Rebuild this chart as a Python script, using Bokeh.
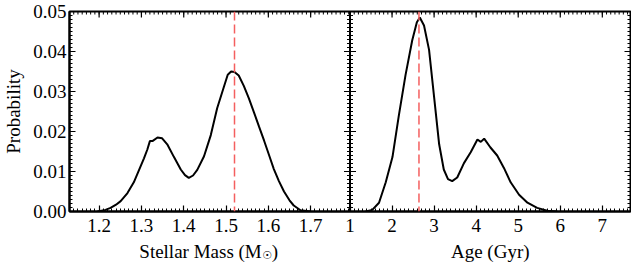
import numpy as np
from bokeh.plotting import figure
from bokeh.layouts import column
from bokeh.models import (Range1d, LinearAxis, FixedTicker, Span, PrintfTickFormatter, Label)
from bokeh.embed import file_html
from bokeh.resources import INLINE

# ---- data ----
mass_x = [1.196, 1.215, 1.227, 1.240, 1.251, 1.267, 1.282, 1.298, 1.306, 1.314, 1.320, 1.326,
          1.338, 1.349, 1.361, 1.377, 1.393, 1.403, 1.412, 1.422, 1.432, 1.448, 1.464, 1.479,
          1.495, 1.504, 1.512, 1.520, 1.530, 1.542, 1.554, 1.566, 1.578, 1.590, 1.602, 1.613,
          1.625, 1.637, 1.650, 1.660, 1.676, 1.700]
mass_p = [0.0000, 0.0004, 0.0009, 0.0017, 0.0026, 0.0046, 0.0073, 0.0113, 0.0133, 0.0155, 0.0176,
          0.0176, 0.0185, 0.0183, 0.0168, 0.0136, 0.0105, 0.0091, 0.0084, 0.0090, 0.0104, 0.0138,
          0.0191, 0.0258, 0.0312, 0.0342, 0.0350, 0.0349, 0.0340, 0.0314, 0.0283, 0.0248, 0.0212,
          0.0177, 0.0140, 0.0106, 0.0076, 0.0050, 0.0028, 0.0015, 0.0003, 0.0000]
age_x = [1.37, 1.53, 1.69, 1.85, 2.01, 2.16, 2.32, 2.48, 2.59, 2.66, 2.76, 2.88, 3.00, 3.12,
         3.23, 3.33, 3.43, 3.55, 3.71, 3.87, 4.03, 4.11, 4.19, 4.34, 4.50, 4.66, 4.82, 5.02,
         5.22, 5.45, 5.69, 5.93]
age_p = [0.0000, 0.0004, 0.0022, 0.0073, 0.0136, 0.0239, 0.0341, 0.0428, 0.0473, 0.0485, 0.0465,
         0.0404, 0.0286, 0.0168, 0.0105, 0.0081, 0.0076, 0.0085, 0.0121, 0.0148, 0.0180, 0.0174,
         0.0182, 0.0160, 0.0140, 0.0109, 0.0073, 0.0042, 0.0022, 0.0009, 0.0002, 0.0000]
mass_best = 1.52
age_best = 2.64

mass_ticks = [1.2, 1.3, 1.4, 1.5, 1.6, 1.7]
mass_labels = ["1.2", "1.3", "1.4", "1.5", "1.6", "1.7"]
age_ticks = [1, 2, 3, 4, 5, 6, 7]
age_labels = ["1", "2", "3", "4", "5", "6", "7"]
y_ticks = [0.0, 0.01, 0.02, 0.03, 0.04, 0.05]

x_title_mass = "Stellar Mass (M"
x_title_sun = "\u2609"
x_title_close = ")"
x_title_age = "Age (Gyr)"
y_title = "Probability"

mass_range = (1.13, 1.793)
age_range = (1.0, 7.67)
y_range = (0.0, 0.05)

FONT = "'Liberation Serif'"
FS = "19px"
RED = "#f45f5f"

mspan = mass_range[1] - mass_range[0]
aspan = age_range[1] - age_range[0]


def age_to_main(a):
    return mass_range[1] + (a - age_range[0]) * mspan / aspan


xr = Range1d(mass_range[0], mass_range[0] + 2 * mspan)
ar = Range1d(age_range[0] - aspan, age_range[1])

p = figure(width=631, height=240, output_backend="svg", toolbar_location=None,
           x_range=xr, y_range=Range1d(*y_range),
           min_border_left=68, min_border_right=1, min_border_top=11, min_border_bottom=29,
           x_axis_type=None, y_axis_type=None)
p.extra_x_ranges = {"age": ar}
p.grid.visible = False
p.outline_line_color = "black"
p.outline_line_width = 2
p.background_fill_color = "white"
p.border_fill_color = "white"

# ---- tickers ----
major_x = [float(t) for t in mass_ticks] + [float(age_to_main(a)) for a in age_ticks]
minor_m_vals = [float(v) for v in np.round(np.arange(1.14, 1.795, 0.01), 3)]
minor_a_vals = [float(v) for v in np.round(np.arange(1.1, 7.67, 0.1), 2)]
minor_x = minor_m_vals + [float(age_to_main(v)) for v in minor_a_vals]
xticker = FixedTicker(ticks=major_x, minor_ticks=minor_x)
overrides = {}
for t, l in zip(mass_ticks, mass_labels):
    overrides[float(t)] = l
for a, l in zip(age_ticks, age_labels):
    overrides[float(age_to_main(a))] = l

yminor = [float(v) for v in np.round(np.arange(0.001, 0.0500, 0.001), 4)]
yticker = FixedTicker(ticks=y_ticks, minor_ticks=yminor)


def style(ax):
    ax.major_tick_in = 6
    ax.major_tick_out = 0
    ax.minor_tick_in = 3
    ax.minor_tick_out = 0
    ax.major_tick_line_width = 1.2
    ax.minor_tick_line_width = 1
    ax.axis_line_color = "black"
    ax.axis_line_width = 2
    ax.major_label_text_font = FONT
    ax.axis_label_text_font = FONT
    ax.axis_label_text_font_style = "normal"
    ax.major_label_text_color = "black"
    ax.axis_label_text_color = "black"
    ax.major_label_text_font_size = FS
    ax.axis_label_text_font_size = FS


xb = LinearAxis(ticker=xticker, major_label_overrides=overrides)
style(xb)
xb.major_label_standoff = 7
xb.axis_label_standoff = 0
p.add_layout(xb, "below")
yl = LinearAxis(ticker=yticker, formatter=PrintfTickFormatter(format="%.2f"), axis_label=y_title)
style(yl)
yl.major_label_standoff = 3
yl.axis_label_standoff = 6
p.add_layout(yl, "left")

# ---- top / right / middle ticks drawn as short rays from the frame edges ----
p.ray(x=major_x, y=[y_range[1]] * len(major_x), length=6, length_units="screen",
      angle=-np.pi / 2, line_color="black", line_width=1.2)
p.ray(x=minor_x, y=[y_range[1]] * len(minor_x), length=3, length_units="screen",
      angle=-np.pi / 2, line_color="black", line_width=1)
p.ray(x=[age_range[1]] * len(y_ticks), y=y_ticks, x_range_name="age", length=6,
      length_units="screen", angle=np.pi, line_color="black", line_width=1.2)
p.ray(x=[age_range[1]] * len(yminor), y=yminor, x_range_name="age", length=3,
      length_units="screen", angle=np.pi, line_color="black", line_width=1)

p.add_layout(Span(location=age_range[0], dimension="height", x_range_name="age",
                  line_color="black", line_width=2))
p.scatter(x=[age_range[0]] * len(y_ticks), y=y_ticks, x_range_name="age",
          marker="dash", size=12, line_color="black", line_width=1.2)
p.scatter(x=[age_range[0]] * len(yminor), y=yminor, x_range_name="age",
          marker="dash", size=6, line_color="black", line_width=1)

# ---- curves ----
p.line(mass_x, mass_p, line_color="black", line_width=2)
p.line(age_x, age_p, line_color="black", line_width=2, x_range_name="age")

p.add_layout(Span(location=mass_best, dimension="height", line_color=RED,
                  line_width=1.5, line_dash="9 4"))
p.add_layout(Span(location=age_best, dimension="height", x_range_name="age",
                  line_color=RED, line_width=1.5, line_dash="9 4"))

# ---- strip below holding the x axis titles ----
t = figure(width=631, height=26, output_backend="svg", toolbar_location=None,
           x_range=xr, y_range=Range1d(0, 26),
           min_border_left=68, min_border_right=1, min_border_top=0, min_border_bottom=0,
           x_axis_type=None, y_axis_type=None)
t.extra_x_ranges = {"age": ar}
t.grid.visible = False
t.outline_line_color = None
t.background_fill_color = "white"
t.border_fill_color = "white"

mass_mid = (mass_range[0] + mass_range[1]) / 2
age_mid = (age_range[0] + age_range[1]) / 2
TY = 15
anchor = 52
t.add_layout(Label(x=mass_mid, y=TY, x_offset=anchor, text=x_title_mass,
                   text_align="right", text_baseline="middle", text_font=FONT,
                   text_font_size=FS, text_color="black"))
t.add_layout(Label(x=mass_mid, y=TY - 4, x_offset=anchor + 0.5, text=x_title_sun,
                   text_align="left", text_baseline="middle", text_font="DejaVu Sans",
                   text_font_size="11px", text_color="black"))
t.add_layout(Label(x=mass_mid, y=TY, x_offset=anchor + 10, text=x_title_close,
                   text_align="left", text_baseline="middle", text_font=FONT,
                   text_font_size=FS, text_color="black"))
t.add_layout(Label(x=age_mid, y=TY, x_range_name="age", text=x_title_age,
                   text_align="center", text_baseline="middle", text_font=FONT,
                   text_font_size=FS, text_color="black"))

layout = column(p, t, spacing=0)
open("out.html", "w").write(file_html(layout, INLINE))
